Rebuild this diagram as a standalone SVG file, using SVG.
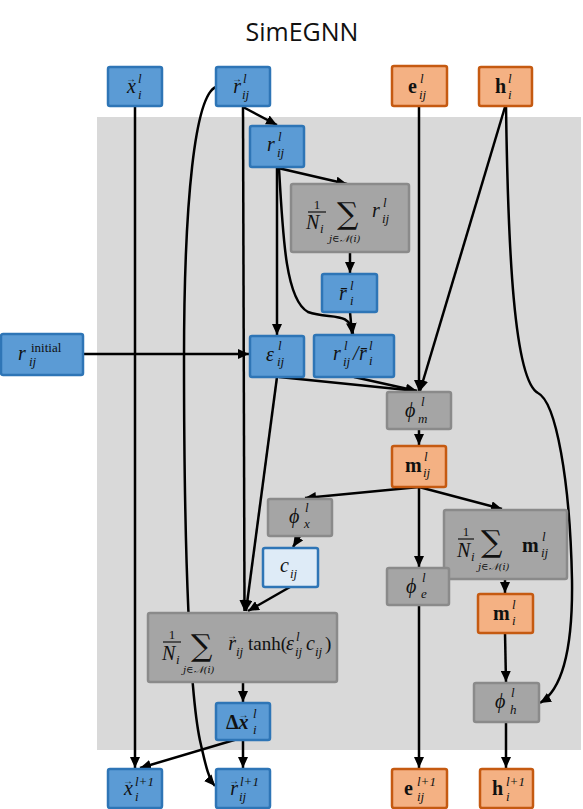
<svg xmlns="http://www.w3.org/2000/svg" width="583" height="809" viewBox="0 0 583 809">
<style>
.bl{fill:#5B9BD5;stroke:#2E75B6;stroke-width:2.5}
.lb{fill:#DEEBF7;stroke:#2E75B6;stroke-width:2.5}
.or{fill:#F4B183;stroke:#C55A11;stroke-width:2.5}
.gr{fill:#A5A5A5;stroke:#8A8A8A;stroke-width:2.5}
.e{fill:none;stroke:#000;stroke-width:2.5;marker-end:url(#ah)}
text{fill:#111;font-family:"Liberation Serif","DejaVu Serif",serif}
.m{font-style:italic;font-size:20px}
.s{font-style:italic;font-size:13px;font-weight:normal}
.u{font-size:13px}
.ar{font-size:10px;font-style:normal;font-weight:normal}
.bf{font-weight:bold;font-size:20px}
.sig{font-family:"DejaVu Serif",serif;font-size:30px}
.nb{font-family:"DejaVu Serif",serif;font-style:italic;font-size:10px}
.t{font-family:"Open Sans","Liberation Sans",sans-serif;font-size:25px;fill:#111}
</style>
<defs>
<marker id="ah" markerUnits="userSpaceOnUse" markerWidth="11" markerHeight="10" refX="11" refY="5" orient="auto">
<path d="M0,0 L11,5 L0,10 z" fill="#000"/>
</marker>
</defs>
<rect x="97" y="117" width="484" height="633" fill="#D9D9D9"/>
<text class="t" x="302" y="41" text-anchor="middle">SimEGNN</text>

<g id="edges">
<path class="e" d="M135,106 L135,768"/>
<path class="e" d="M243,106 L244.5,611"/>
<path class="e" d="M216,87 C195,95 184,200 184,360 C184,560 190,700 201,745 C205,762 208,778 215,786"/>
<path class="e" d="M243,107 L277,125"/>
<path class="e" d="M278,168 L347,184"/>
<path class="e" d="M277,168 L277,335"/>
<path class="e" d="M279,168 C283,240 286,300 308,312 C330,320 350,310 353,334"/>
<path class="e" d="M350,252 L350,273"/>
<path class="e" d="M350,312 L352,334"/>
<path class="e" d="M83,354 L249,354"/>
<path class="e" d="M279,377 L417,391"/>
<path class="e" d="M354,377 L417,391"/>
<path class="e" d="M419,106 L419,391"/>
<path class="e" d="M505,107 L420,391"/>
<path class="e" d="M506,106 C508,250 514,380 538,393 C556,402 570,480 572,580 C573,650 562,690 540,703"/>
<path class="e" d="M419,429 L419,445"/>
<path class="e" d="M419,487 L305,498"/>
<path class="e" d="M419,487 L502,509"/>
<path class="e" d="M419,487 L419,567"/>
<path class="e" d="M300,536 L293,547"/>
<path class="e" d="M290,587 L248,611"/>
<path class="e" d="M277,377 L246,611"/>
<path class="e" d="M505,579 L505,593"/>
<path class="e" d="M505,633 L506,682"/>
<path class="e" d="M419,605 L419,768"/>
<path class="e" d="M506,722 L506,768"/>
<path class="e" d="M243,682 L243,702"/>
<path class="e" d="M243,740 L243,768"/>
<path class="e" d="M241,738 L140,768"/>
</g>

<g id="x_i_l"><rect class="bl" x="108" y="67" width="54" height="39" rx="2"/>
<text class="m" x="126" y="93">x<tspan class="ar" dx="-10" dy="-11">→</tspan><tspan class="s" x="138" y="83">l</tspan><tspan class="s" x="138" y="99">i</tspan></text></g>
<g id="r_ij_l_vec"><rect class="bl" x="216" y="67" width="54" height="39" rx="2"/>
<text class="m" x="232" y="93">r<tspan class="ar" dx="-9" dy="-11">→</tspan><tspan class="s" x="243" y="83">l</tspan><tspan class="s" x="242" y="99">ij</tspan></text></g>
<g id="e_ij_l"><rect class="or" x="392" y="66" width="55" height="40" rx="2"/>
<text class="bf" x="408" y="93">e</text><text class="s" x="420" y="83">l</text><text class="s" x="419" y="99">ij</text></g>
<g id="h_i_l"><rect class="or" x="479" y="67" width="53" height="39" rx="2"/>
<text class="bf" x="495" y="93">h</text><text class="s" x="508" y="83">l</text><text class="s" x="508" y="99">i</text></g>

<g id="r_ij_l"><rect class="bl" x="250" y="126" width="54" height="41" rx="2"/>
<text class="m" x="267" y="151">r</text><text class="s" x="278" y="141">l</text><text class="s" x="277" y="157">ij</text></g>

<g id="sum_r"><rect class="gr" x="291" y="184" width="118" height="68" rx="2"/>
<text class="u" x="317" y="209" text-anchor="middle" font-size="17">1</text><line x1="308" y1="212" x2="326" y2="212" stroke="#111" stroke-width="1.2"/>
<text class="m" x="306" y="229" font-size="18">N</text><text class="s" x="320" y="233" font-size="11">i</text>
<text class="sig" x="337" y="224">∑</text>
<text class="nb" x="329" y="242">j∈𝒩(i)</text>
<text class="m" x="372" y="217">r</text><text class="s" x="383" y="207">l</text><text class="s" x="382" y="223">ij</text></g>

<g id="rbar_i_l"><rect class="bl" x="322" y="274" width="55" height="38" rx="2"/>
<text class="m" x="339" y="300">r̄</text><text class="s" x="350" y="290">l</text><text class="s" x="350" y="305">i</text></g>

<g id="eps_ij_l"><rect class="bl" x="250" y="336" width="54" height="41" rx="2"/>
<text class="m" x="266" y="361">ε</text><text class="s" x="278" y="350">l</text><text class="s" x="277" y="366">ij</text></g>

<g id="r_over_rbar"><rect class="bl" x="314" y="335" width="80" height="42" rx="2"/>
<text class="m" x="333" y="360">r</text><text class="s" x="344" y="350">l</text><text class="s" x="343" y="366">ij</text>
<text class="m" x="353" y="360">/</text>
<text class="m" x="359" y="360">r̄</text><text class="s" x="369" y="350">l</text><text class="s" x="369" y="365">i</text></g>

<g id="r_initial"><rect class="bl" x="1" y="334" width="82" height="41" rx="2"/>
<text class="m" x="18" y="360">r</text><text class="u" x="31" y="352" font-size="14">initial</text><text class="s" x="29" y="366">ij</text></g>

<g id="phi_m"><rect class="gr" x="387" y="392" width="64" height="37" rx="2"/>
<text class="m" x="405" y="417">ϕ</text><text class="s" x="421" y="406">l</text><text class="s" x="418" y="423">m</text></g>

<g id="m_ij"><rect class="or" x="392" y="446" width="54" height="41" rx="2"/>
<text class="bf" x="405" y="472">m</text><text class="s" x="424" y="461">l</text><text class="s" x="423" y="477">ij</text></g>

<g id="phi_x"><rect class="gr" x="268" y="499" width="64" height="37" rx="2"/>
<text class="m" x="289" y="523">ϕ</text><text class="s" x="305" y="512">l</text><text class="s" x="304" y="528">x</text></g>

<g id="c_ij"><rect class="lb" x="263" y="548" width="55" height="39" rx="2"/>
<text class="m" x="280" y="572">c</text><text class="s" x="290" y="578">ij</text></g>

<g id="sum_m"><rect class="gr" x="444" y="510" width="123" height="69" rx="2"/>
<text class="u" x="466" y="536" text-anchor="middle" font-size="17">1</text><line x1="458" y1="539" x2="474" y2="539" stroke="#111" stroke-width="1.2"/>
<text class="m" x="457" y="557" font-size="18">N</text><text class="s" x="471" y="561" font-size="11">i</text>
<text class="sig" x="481" y="552">∑</text>
<text class="nb" x="478" y="570">j∈𝒩(i)</text>
<text class="bf" x="522" y="552">m</text><text class="s" x="542" y="541">l</text><text class="s" x="541" y="557">ij</text></g>

<g id="phi_e"><rect class="gr" x="387" y="568" width="62" height="37" rx="2"/>
<text class="m" x="406" y="593">ϕ</text><text class="s" x="422" y="582">l</text><text class="s" x="421" y="598">e</text></g>

<g id="m_i"><rect class="or" x="478" y="594" width="55" height="39" rx="2"/>
<text class="bf" x="493" y="620">m</text><text class="s" x="512" y="609">l</text><text class="s" x="512" y="625">i</text></g>

<g id="phi_h"><rect class="gr" x="474" y="683" width="65" height="39" rx="2"/>
<text class="m" x="495" y="708">ϕ</text><text class="s" x="511" y="697">l</text><text class="s" x="510" y="714">h</text></g>

<g id="sum_x"><rect class="gr" x="148" y="613" width="189" height="69" rx="2"/>
<text class="u" x="172" y="639" text-anchor="middle" font-size="17">1</text><line x1="163" y1="642" x2="181" y2="642" stroke="#111" stroke-width="1.2"/>
<text class="m" x="162" y="660" font-size="18">N</text><text class="s" x="176" y="664" font-size="11">i</text>
<text class="sig" x="191" y="656">∑</text>
<text class="nb" x="183" y="673">j∈𝒩(i)</text>
<text class="m" x="227" y="650">r<tspan class="ar" dx="-9" dy="-11">→</tspan><tspan class="s" x="236" y="656">ij</tspan></text>
<text x="248" y="650" font-size="19">tanh(</text><text class="m" x="286" y="650">ε</text><text class="s" x="296" y="641">l</text><text class="s" x="295" y="656">ij</text>
<text class="m" x="306" y="650">c</text><text class="s" x="315" y="656">ij</text><text x="325" y="650" font-size="19">)</text></g>

<g id="delta_x"><rect class="bl" x="216" y="703" width="54" height="37" rx="2"/>
<text class="bf" x="226" y="729">Δ<tspan font-style="italic">x</tspan><tspan class="ar" dx="-10" dy="-11">→</tspan><tspan class="s" x="253" y="718">l</tspan><tspan class="s" x="253" y="734">i</tspan></text></g>

<g id="x_i_l1"><rect class="bl" x="108" y="769" width="54" height="39" rx="2"/>
<text class="m" x="123" y="795">x<tspan class="ar" dx="-10" dy="-11">→</tspan><tspan class="s" x="135" y="786">l+1</tspan><tspan class="s" x="135" y="801">i</tspan></text></g>
<g id="r_ij_l1"><rect class="bl" x="216" y="769" width="54" height="39" rx="2"/>
<text class="m" x="229" y="795">r<tspan class="ar" dx="-9" dy="-11">→</tspan><tspan class="s" x="240" y="786">l+1</tspan><tspan class="s" x="239" y="801">ij</tspan></text></g>
<g id="e_ij_l1"><rect class="or" x="392" y="769" width="55" height="39" rx="2"/>
<text class="bf" x="404" y="795">e</text><text class="s" x="417" y="786">l+1</text><text class="s" x="417" y="801">ij</text></g>
<g id="h_i_l1"><rect class="or" x="480" y="769" width="53" height="39" rx="2"/>
<text class="bf" x="492" y="795">h</text><text class="s" x="506" y="786">l+1</text><text class="s" x="506" y="801">i</text></g>
</svg>
